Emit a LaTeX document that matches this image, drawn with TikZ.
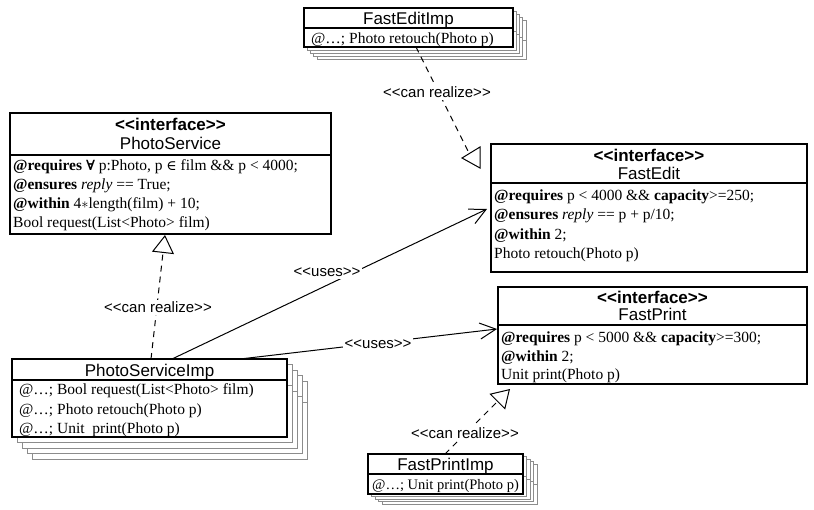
\documentclass[tikz,border=0pt]{standalone}
\usepackage{fontspec}
\setmainfont{Liberation Serif}
\setsansfont{Liberation Sans}
\newfontfamily\logicfont{DejaVu Serif}
\usetikzlibrary{arrows.meta}

% stacked copies behind an implementation class: x, y, width, height, divider offset, dx, dy
\newcommand\stackshadow[7]{%
  \foreach \k in {4,3,2,1}{
    \draw[shadowbox] ({#1+\k*#6},{#2+\k*#7}) rectangle ++(#3,#4);
    \draw[shadowbox] ({#1+\k*#6},{#2+#5+\k*#7}) -- ++(#3,0);
  }}
% stereotype brackets, kept apart so no guillemet ligature forms
\newcommand\stl{<{}<}
\newcommand\str{>{}>}

\tikzset{
  classbox/.style={draw=black, line width=1.2pt, fill=white, rectangle, inner sep=0pt, outer sep=0pt, anchor=north west},
  divider/.style={line width=1.2pt},
  shadowbox/.style={draw=black!45, line width=0.9pt, fill=white},
  stereo/.style={font=\sffamily\bfseries\fontsize{17}{19}\selectfont, inner sep=0pt, text height=12.2pt, text depth=0pt},
  cname/.style={font=\sffamily\fontsize{17}{19}\selectfont, inner sep=0pt, text height=12.2pt, text depth=0pt},
  member/.style={font=\fontsize{15.5}{19}\selectfont, inner sep=0pt, anchor=west, text height=10.2pt, text depth=0pt},
  conn/.style={line width=1pt},
  realize/.style={conn, dash pattern=on 6pt off 5pt},
  hollow/.style={-{Triangle[open, length=18pt, width=22pt, line width=1pt]}},
  uses/.style={conn, -{Straight Barb[length=16pt, width=16pt, line width=1pt]}},
  lbl/.style={font=\sffamily\fontsize{15}{17}\selectfont, fill=white, inner sep=2pt, text height=11pt, text depth=0pt},
}

\begin{document}
\begin{tikzpicture}[x=1pt, y=-1pt]
\useasboundingbox (0,0) rectangle (814,509);

% ---------- FastEditImp ----------
\stackshadow{304}{8}{209}{39}{20}{3.3}{3}
\node[classbox, minimum width=209pt, minimum height=39pt] (fei) at (304,8) {};
\draw[divider] (304,28) -- (513,28);
\node[cname] (fei-name) at (408.5,18) {FastEditImp};
\node[member] (fei-m1) at (311,38) {@\ldots; Photo retouch(Photo p)};

% ---------- PhotoService ----------
\node[classbox, minimum width=321pt, minimum height=121pt] (ps) at (10,113) {};
\draw[divider] (10,155) -- (331,155);
\node[stereo] (ps-st) at (170.5,124) {\stl interface\str};
\node[cname] (ps-name) at (170.5,143) {PhotoService};
\node[member] (ps-m1) at (13,165) {\textbf{@requires} {\logicfont\bfseries\fontsize{14}{19}\selectfont ∀} p:Photo, p {\logicfont\fontsize{14}{19}\selectfont ∈} film \&\& p < 4000;};
\node[member] (ps-m2) at (13,184) {\textbf{@ensures} \textit{reply} == True;};
\node[member] (ps-m3) at (13,203) {\textbf{@within} 4$\ast$length(film) + 10;};
\node[member] (ps-m4) at (13,222) {Bool request(List<Photo> film)};

% ---------- FastEdit ----------
\node[classbox, minimum width=316pt, minimum height=128pt] (fe) at (491,144) {};
\draw[divider] (491,183) -- (807,183);
\node[stereo] (fe-st) at (649,155) {\stl interface\str};
\node[cname] (fe-name) at (649,173) {FastEdit};
\node[member] (fe-m1) at (494,195) {\textbf{@requires} p < 4000 \&\& \textbf{capacity}>=250;};
\node[member] (fe-m2) at (494,214.5) {\textbf{@ensures} \textit{reply} == p + p/10;};
\node[member] (fe-m3) at (494,234) {\textbf{@within} 2;};
\node[member] (fe-m4) at (494,253) {Photo retouch(Photo p)};

% ---------- FastPrint ----------
\node[classbox, minimum width=309pt, minimum height=97pt] (fp) at (498,287) {};
\draw[divider] (498,325) -- (807,325);
\node[stereo] (fp-st) at (652.5,297) {\stl interface\str};
\node[cname] (fp-name) at (652.5,314) {FastPrint};
\node[member] (fp-m1) at (501,337) {\textbf{@requires} p < 5000 \&\& \textbf{capacity}>=300;};
\node[member] (fp-m2) at (501,356) {\textbf{@within} 2;};
\node[member] (fp-m3) at (501,374) {Unit print(Photo p)};

% ---------- PhotoServiceImp ----------
\stackshadow{12}{359}{275}{78}{21}{5}{5.5}
\node[classbox, minimum width=275pt, minimum height=78pt] (psi) at (12,359) {};
\draw[divider] (12,380) -- (287,380);
\node[cname] (psi-name) at (149.5,370) {PhotoServiceImp};
\node[member] (psi-m1) at (19,389) {@\ldots; Bool request(List<Photo> film)};
\node[member] (psi-m2) at (19,409) {@\ldots; Photo retouch(Photo p)};
\node[member] (psi-m3) at (19,428) {@\ldots; Unit\ \ print(Photo p)};

% ---------- FastPrintImp ----------
\stackshadow{368}{454}{155}{40}{20}{3.5}{2.5}
\node[classbox, minimum width=155pt, minimum height=40pt] (fpi) at (368,454) {};
\draw[divider] (368,474) -- (523,474);
\node[cname] (fpi-name) at (445.5,464) {FastPrintImp};
\node[member, font=\fontsize{14.5}{19}\selectfont] (fpi-m1) at (372,484) {@\ldots; Unit print(Photo p)};

% ---------- connector end points ----------
\coordinate (fei-out) at (416,47);
\coordinate (fe-in) at (468,151);
\coordinate (psi-out1) at (151,359);
\coordinate (ps-in) at (165,235);
\coordinate (psi-out2) at (172,359);
\coordinate (fe-use) at (487,209);
\coordinate (psi-out3) at (240,359);
\coordinate (fp-use) at (497,329);
\coordinate (fpi-out) at (445,454);
\coordinate (fp-in) at (510,389);

% ---------- connectors ----------
\draw[realize] (fei-out) -- (fe-in);
\draw[conn, line join=miter] (462,158) -- (480,147) -- (480,168) -- cycle;
\draw[realize, hollow] (psi-out1) -- (ps-in);
\draw[uses] (psi-out2) -- (fe-use);
\draw[uses] (psi-out3) -- (fp-use);
\draw[realize, hollow] (fpi-out) -- (fp-in);

% ---------- stereotype labels ----------
\node[lbl] (lbl-fe-real) at (437,92) {\stl can realize\str};
\node[lbl] (lbl-ps-real) at (158,307) {\stl can realize\str};
\node[lbl] (lbl-fp-real) at (465,433) {\stl can realize\str};
\node[lbl] (lbl-use1) at (327,271) {\stl uses\str};
\node[lbl] (lbl-use2) at (378,343) {\stl uses\str};
\end{tikzpicture}
\end{document}
